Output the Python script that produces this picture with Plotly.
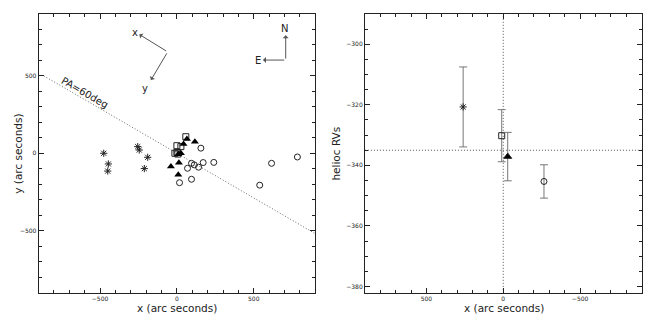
import plotly.graph_objects as go

# ---- Left panel data (positions, arc seconds) ----
ast_x = [-476, -446, -450, -255, -245, -190, -212]
ast_y = [0, -69, -115, 43, 21, -26, -99]
sq_x = [58, 0, 26, -13, 0, 6]
sq_y = [107, 49, 43, 0, 5, -5]
tri_x = [65, 117, 43, 26, 9, 13, -39, 9]
tri_y = [92, 75, 60, 0, -6, -62, -85, -138]
circ_x = [156, 17, 95, 69, 113, 95, 141, 171, 240, 539, 616, 784]
circ_y = [33, -190, -168, -97, -75, -65, -90, -60, -59, -206, -65, -24]

pa_line_x = [-866, 1000]
pa_line_y = [500, -577]

# ---- Right panel data (mean positions vs heliocentric RVs) ----
rv_x = [261, 10, -29, -265]
rv_y = [-320.7, -330.2, -337.1, -345.3]
rv_err = [13.2, 8.6, 8.0, 5.5]
rv_sym = ["asterisk-open", "square-open", "triangle-up", "circle-open"]
rv_ref = -335

FONT = "DejaVu Sans"
INK = "#222222"
DOT = "1px,2px"

fig = go.Figure()

fig.add_trace(go.Scatter(x=pa_line_x, y=pa_line_y, mode="lines",
                         line=dict(color="#666666", width=1, dash=DOT),
                         xaxis="x", yaxis="y", hoverinfo="skip"))
fig.add_trace(go.Scatter(x=ast_x, y=ast_y, mode="markers",
                         marker=dict(symbol="asterisk-open", size=6, color=INK, line=dict(width=1, color=INK)),
                         xaxis="x", yaxis="y"))
fig.add_trace(go.Scatter(x=sq_x, y=sq_y, mode="markers",
                         marker=dict(symbol="square-open", size=6, color=INK, line=dict(width=1, color=INK)),
                         xaxis="x", yaxis="y"))
fig.add_trace(go.Scatter(x=tri_x, y=tri_y, mode="markers",
                         marker=dict(symbol="triangle-up", size=7, color="black"),
                         xaxis="x", yaxis="y"))
fig.add_trace(go.Scatter(x=circ_x, y=circ_y, mode="markers",
                         marker=dict(symbol="circle-open", size=6, color=INK, line=dict(width=1, color=INK)),
                         xaxis="x", yaxis="y"))

fig.add_trace(go.Scatter(x=[900, -900], y=[rv_ref, rv_ref], mode="lines",
                         line=dict(color="#555555", width=1, dash=DOT),
                         xaxis="x2", yaxis="y2", hoverinfo="skip"))
fig.add_trace(go.Scatter(x=[0, 0], y=[-390, -280], mode="lines",
                         line=dict(color="#555555", width=1, dash=DOT),
                         xaxis="x2", yaxis="y2", hoverinfo="skip"))
for i in range(len(rv_x)):
    fig.add_trace(go.Scatter(x=[rv_x[i]], y=[rv_y[i]], mode="markers",
                             marker=dict(symbol=rv_sym[i], size=6 if i != 2 else 7,
                                         color="black" if i == 2 else INK,
                                         line=dict(width=1, color=INK)),
                             error_y=dict(type="data", array=[rv_err[i]], color="#777777",
                                          thickness=1, width=4),
                             xaxis="x2", yaxis="y2"))

tickfont = dict(family=FONT, size=6, color=INK)
titlefont = dict(family=FONT, size=10.5, color=INK)
common = dict(showgrid=False, zeroline=False, showline=True, linecolor=INK, linewidth=1,
              mirror="ticks", ticks="inside", ticklen=5, tickcolor=INK, tickfont=tickfont,
              automargin=False)

fig.update_layout(
    width=654, height=317,
    margin=dict(l=0, r=0, t=0, b=0, autoexpand=False),
    paper_bgcolor="white", plot_bgcolor="white",
    showlegend=False,
    xaxis=dict(domain=[0.059, 0.482], range=[-900, 900], tickvals=[-500, 0, 500],
               ticktext=["\u2212500", "0", "500"],
               minor=dict(dtick=100, ticks="inside", ticklen=3, tickcolor=INK),
               anchor="y", **common),
    yaxis=dict(domain=[0.077, 0.956], range=[-900, 900], tickvals=[-500, 0, 500],
               ticktext=["\u2212500", "0", "500"],
               minor=dict(dtick=100, ticks="inside", ticklen=3, tickcolor=INK),
               anchor="x", **common),
    xaxis2=dict(domain=[0.558, 0.981], range=[900, -900], tickvals=[500, 0, -500],
                ticktext=["500", "0", "\u2212500"],
                minor=dict(dtick=100, ticks="inside", ticklen=3, tickcolor=INK),
                anchor="y2", **common),
    yaxis2=dict(domain=[0.077, 0.956], range=[-382, -290],
                tickvals=[-300, -320, -340, -360, -380],
                ticktext=["\u2212300", "\u2212320", "\u2212340", "\u2212360", "\u2212380"],
                minor=dict(dtick=5, ticks="inside", ticklen=3, tickcolor=INK),
                anchor="x2", **common),
)

ann = []
def arrow(x0, y0, x1, y1):
    ann.append(dict(x=x1, y=y1, ax=x0, ay=y0, xref="x", yref="y", axref="x", ayref="y",
                    showarrow=True, arrowhead=1, arrowsize=1, arrowwidth=1,
                    arrowcolor="#555555", text=""))

arrow(-60, 655, -245, 768)
arrow(-60, 655, -169, 473)
arrow(708, 602, 708, 763)
arrow(708, 602, 560, 602)
lab = dict(xref="x", yref="y", showarrow=False, font=dict(family=FONT, size=10, color=INK))
ann.append(dict(text="x", x=-275, y=780, **lab))
ann.append(dict(text="y", x=-205, y=420, **lab))
ann.append(dict(text="N", x=700, y=805, **lab))
ann.append(dict(text="E", x=525, y=602, **lab))
ann.append(dict(text="PA=60deg", x=-600, y=395, textangle=30, xref="x", yref="y",
                showarrow=False, font=dict(family=FONT, size=10, color=INK)))

# axis titles
ttl = dict(xref="paper", yref="paper", showarrow=False, font=titlefont,
           xanchor="center", yanchor="middle")
ann.append(dict(text="x (arc seconds)", x=0.270, y=0.027, **ttl))
ann.append(dict(text="x (arc seconds)", x=0.770, y=0.027, **ttl))
ann.append(dict(text="y (arc seconds)", x=0.028, y=0.516, textangle=-90, **ttl))
ann.append(dict(text="helioc RVs", x=0.514, y=0.516, textangle=-90, **ttl))
fig.update_layout(annotations=ann)

fig.write_html("out.html", config={"displayModeBar": False},
               post_script="document.body.style.margin='0';document.body.style.overflow='hidden';")
